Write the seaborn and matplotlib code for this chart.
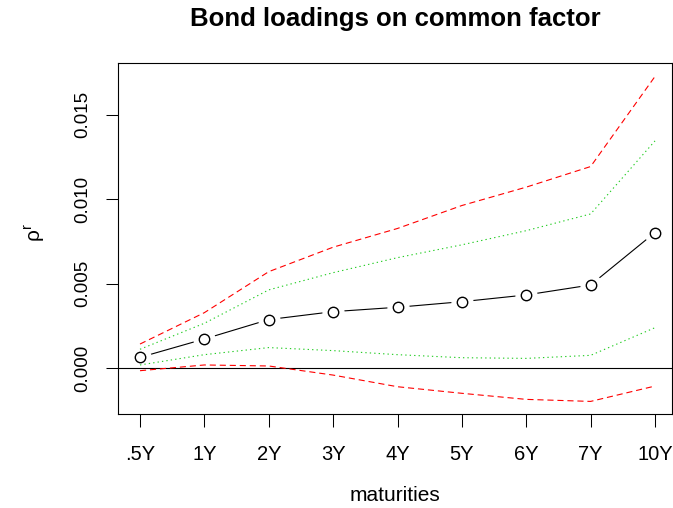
import numpy as np
import pandas as pd
import matplotlib
matplotlib.use("Agg")
import matplotlib.pyplot as plt
import seaborn as sns

maturities = [".5Y", "1Y", "2Y", "3Y", "4Y", "5Y", "6Y", "7Y", "10Y"]
loading = [0.00063, 0.00172, 0.00287, 0.00334, 0.00360, 0.00393, 0.00433, 0.00492, 0.00803]
upper_outer = [0.00142, 0.00328, 0.00571, 0.00716, 0.00827, 0.00963, 0.01072, 0.01194, 0.01728]
upper_inner = [0.00111, 0.00265, 0.00463, 0.00565, 0.00654, 0.00730, 0.00814, 0.00913, 0.01346]
lower_inner = [0.00018, 0.00079, 0.00121, 0.00103, 0.00079, 0.00061, 0.00057, 0.00075, 0.00239]
lower_outer = [-0.00016, 0.00018, 0.00012, -0.00042, -0.00111, -0.00150, -0.00186, -0.00198, -0.00107]
yticks = [0.000, 0.005, 0.010, 0.015]
ytick_labels = ["0.000", "0.005", "0.010", "0.015"]

sns.set_style("white")
plt.rcParams['font.family'] = ['Liberation Sans', 'DejaVu Sans']
plt.rcParams['mathtext.fontset'] = 'custom'
plt.rcParams['mathtext.rm'] = 'Liberation Sans'
plt.rcParams['mathtext.it'] = 'Liberation Sans'
plt.rcParams['text.color'] = 'black'
plt.rcParams['axes.labelcolor'] = 'black'

W, H = 673, 508
fig = plt.figure(figsize=(W / 100, H / 100), dpi=100)
left, right, top, bottom = 118, 672, 63, 414
ax = fig.add_axes([left / W, 1 - bottom / H, (right - left) / W, (bottom - top) / H])

x = np.arange(1, len(maturities) + 1)
df = pd.DataFrame({"x": x, "loading": loading, "uo": upper_outer, "ui": upper_inner,
                   "li": lower_inner, "lo": lower_outer})

lw = 0.8
# black connecting line with gaps around points (R type="b")
sns.lineplot(data=df, x="x", y="loading", color="black", ax=ax, lw=lw, zorder=1)
ax.plot(df["x"], df["loading"], ls="none", marker="o", ms=15, mfc="white", mec="white", zorder=1.5)

ax.axhline(0, color="black", lw=lw, zorder=2)
for col, color, dash in [("uo", "red", (5.5, 3.5)), ("lo", "red", (5.5, 3.5)),
                         ("ui", "#22cc22", (1.2, 2.8)), ("li", "#22cc22", (1.2, 2.8))]:
    sns.lineplot(data=df, x="x", y=col, color=color, ax=ax, lw=lw, zorder=2)
    ax.lines[-1].set_dashes(dash)

ax.plot(df["x"], df["loading"], ls="none", marker="o", ms=7.5, mfc="none", mec="black", mew=1.0, zorder=5)

spacing = (655 - 140) / 8
ax.set_xlim(1 - (140 - left) / spacing, 9 + (right - 655) / spacing)
ppu = (368 - 283) / 0.005 * 0.9925
ax.set_ylim(-(bottom - 368) / ppu, (368 - top) / ppu)

ax.set_xticks(x)
ax.set_xticklabels(maturities, fontsize=14.5)
ax.set_yticks(yticks)
ax.set_yticklabels(ytick_labels, fontsize=13.5, rotation=90, va="center")
ax.tick_params(bottom=True, left=True, direction="out", length=9, width=0.75,
               color="black", labelcolor="black")
ax.tick_params(axis="x", pad=13)
ax.tick_params(axis="y", pad=10)
for s in ax.spines.values():
    s.set_visible(True)
    s.set_color("black")
    s.set_linewidth(0.8)

ax.set_xlabel("maturities", fontsize=15, labelpad=16, color="black")
ax.set_ylabel("")
fig.text(35 / W, 1 - 232 / H, r"$\rho^r$", rotation=90, fontsize=15, ha="center", va="center")
fig.text(395 / W, 1 - 19 / H, "Bond loadings on common factor", fontsize=18.5,
         fontweight="bold", ha="center", va="center", color="black")

fig.savefig("out.png", dpi=100)
